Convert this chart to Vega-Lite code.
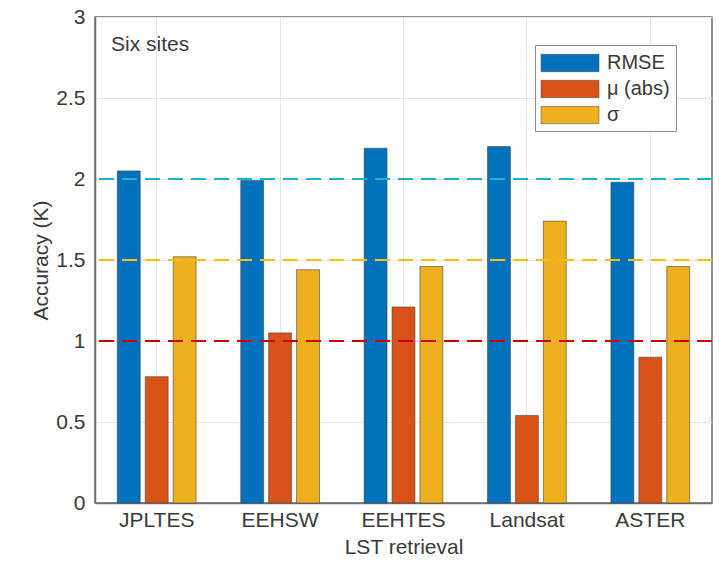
{
  "$schema": "https://vega.github.io/schema/vega-lite/v6.json",
  "width": 617,
  "height": 486,
  "autosize": {"type": "none"},
  "padding": {"left": 95, "top": 17, "right": 14, "bottom": 65},
  "background": "white",
  "config": {
    "font": "Liberation Sans",
    "view": {"stroke": "#6e6e6e", "strokeWidth": 1.5},
    "axis": {"domainColor": "#6e6e6e", "domainWidth": 1.5, "gridColor": "#e6e6e6", "ticks": false}
  },
  "datasets": {
    "bars": [
      {"method": "JPLTES", "metric": "RMSE", "value": 2.05},
      {"method": "JPLTES", "metric": "μ (abs)", "value": 0.78},
      {"method": "JPLTES", "metric": "σ", "value": 1.52},
      {"method": "EEHSW", "metric": "RMSE", "value": 1.99},
      {"method": "EEHSW", "metric": "μ (abs)", "value": 1.05},
      {"method": "EEHSW", "metric": "σ", "value": 1.44},
      {"method": "EEHTES", "metric": "RMSE", "value": 2.19},
      {"method": "EEHTES", "metric": "μ (abs)", "value": 1.21},
      {"method": "EEHTES", "metric": "σ", "value": 1.46},
      {"method": "Landsat", "metric": "RMSE", "value": 2.20},
      {"method": "Landsat", "metric": "μ (abs)", "value": 0.54},
      {"method": "Landsat", "metric": "σ", "value": 1.74},
      {"method": "ASTER", "metric": "RMSE", "value": 1.98},
      {"method": "ASTER", "metric": "μ (abs)", "value": 0.90},
      {"method": "ASTER", "metric": "σ", "value": 1.46}
    ],
    "refs": [
      {"level": 2.0, "color": "#17B5CC"},
      {"level": 1.5, "color": "#FFBF00"},
      {"level": 1.0, "color": "#D00000"}
    ]
  },
  "layer": [
    {
      "data": {"name": "bars"},
      "mark": {"type": "bar", "stroke": "#3a3a3a", "strokeWidth": 0.8, "strokeOpacity": 0.7},
      "encoding": {
        "x": {"field": "method", "type": "nominal", "sort": ["JPLTES", "EEHSW", "EEHTES", "Landsat", "ASTER"], "scale": {"paddingInner": 0, "paddingOuter": 0}, "axis": {"title": "LST retrieval", "labelAngle": 0, "grid": true, "labelPadding": 6, "titlePadding": 6, "labelFontSize": 21, "titleFontSize": 21, "titleFontWeight": "normal", "labelColor": "#3a3a3a", "titleColor": "#3a3a3a"}},
        "xOffset": {"field": "metric", "type": "nominal", "sort": ["RMSE", "μ (abs)", "σ"], "scale": {"paddingInner": 0.18, "paddingOuter": 0.8}},
        "y": {"field": "value", "type": "quantitative", "scale": {"domain": [0, 3]}, "axis": {"title": "Accuracy (K)", "values": [0, 0.5, 1, 1.5, 2, 2.5, 3], "format": "~g", "labelPadding": 10, "titlePadding": 4, "labelFontSize": 21, "titleFontSize": 21, "titleFontWeight": "normal", "labelColor": "#3a3a3a", "titleColor": "#3a3a3a"}},
        "color": {"field": "metric", "type": "nominal", "sort": ["RMSE", "μ (abs)", "σ"], "scale": {"domain": ["RMSE", "μ (abs)", "σ"], "range": ["#0072BD", "#D95319", "#EDB120"]},
          "legend": {"title": null, "orient": "none", "legendX": 440, "legendY": 28, "fillColor": "white", "strokeColor": "#8a8a8a", "padding": 6, "rowPadding": 4, "symbolType": "M-2.5,-0.75H2.5V0.75H-2.5Z", "symbolSize": 538, "symbolOffset": 17, "symbolStrokeColor": "#444", "symbolStrokeWidth": 0.5, "labelFontSize": 20, "labelColor": "#3a3a3a", "labelOffset": 25, "labelLimit": 200, "labelBaseline": "middle"}}
      }
    },
    {
      "data": {"name": "refs"},
      "mark": {"type": "rule", "strokeWidth": 2, "strokeDash": [15, 8]},
      "encoding": {
        "y": {"field": "level", "type": "quantitative"},
        "color": {"field": "color", "type": "nominal", "scale": null, "legend": null}
      }
    },
    {
      "data": {"values": [{"label": "Six sites", "y": 2.83}]},
      "mark": {"type": "text", "align": "left", "baseline": "middle", "fontSize": 21, "color": "#3a3a3a", "x": 16},
      "encoding": {"y": {"field": "y", "type": "quantitative"}, "text": {"field": "label"}}
    }
  ],
  "resolve": {"scale": {"color": "independent"}}
}
